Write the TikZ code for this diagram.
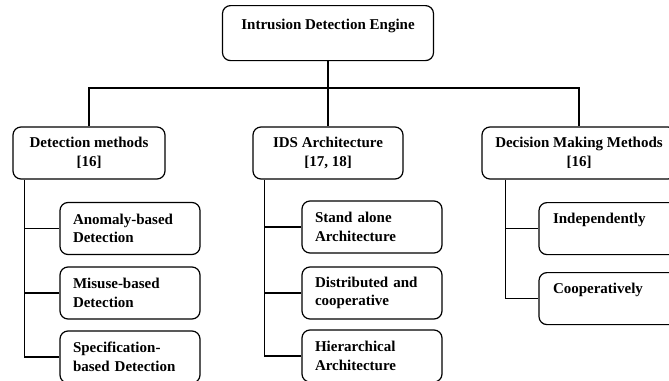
\documentclass[tikz,border=0pt]{standalone}
\usepackage{fontspec}
\setmainfont{Liberation Serif}
\usetikzlibrary{positioning}
\tikzstyle{line} = [draw, line width=1.2pt]

\begin{document}
\begin{tikzpicture}[x=1pt, y=-1pt, line width=1.2pt,
	box/.style={draw, rounded corners=8pt, inner sep=0pt, font=\fontsize{15}{18.6}\selectfont\bfseries},
	head/.style={box, align=center, minimum height=52pt},
	leaf/.style={box, align=left, text width=114pt, minimum width=140pt, minimum height=52pt, inner xsep=13pt},
	topleaf/.style={box, align=left, text width=114pt, inner xsep=14pt, text height=21pt, text depth=31pt, anchor=north}]
	\clip (0,0) rectangle (669,380);
	\useasboundingbox (0,0) rectangle (669,380);
	% top
	\node[box, minimum width=211pt, text height=24pt, text depth=31pt, anchor=north] (ide) at (328,5) {Intrusion Detection Engine};
	% second level
	\node[head, minimum width=152pt] (det) at (89,153) {Detection methods\\{[16]}};
	\node[head, minimum width=150pt] (arch) at (328,153) {IDS Architecture\\{[17, 18]}};
	\node[head, minimum width=194pt] (dec) at (579,153) {Decision Making Methods\\{[16]}};
	% leaves
	\node[leaf] (anom) at (130,228.5) {Anomaly-based\\Detection};
	\node[leaf] (mis) at (130,293) {Misuse-based\\Detection};
	\node[leaf] (spec) at (130,357) {Specification-\\based Detection};
	\node[leaf] (alone) at (372,227) {Stand alone\\Architecture};
	\node[leaf] (dist) at (372,293) {Distributed and\\cooperative};
	\node[leaf] (hier) at (372,356) {Hierarchical\\Architecture};
	\node[topleaf] (indep) at (610,202) {Independently};
	\node[topleaf] (coop) at (610,272) {Cooperatively};
	% bus
	\coordinate (bus) at (0,88);
	\draw (ide.south) -- (ide.south |- bus);
	\draw (det.north) |- (dec.north |- bus) -- (dec.north);
	\draw (arch.north |- bus) -- (arch.north);
	% spines
	\coordinate (detspine) at ([xshift=12pt]det.south west);
	\draw (detspine) |- (spec.west);
	\draw (detspine |- anom.west) -- (anom.west);
	\draw (detspine |- mis.west) -- (mis.west);
	\coordinate (archspine) at ([xshift=12pt]arch.south west);
	\draw (archspine) |- (hier.west);
	\draw (archspine |- alone.west) -- (alone.west);
	\draw (archspine |- dist.west) -- (dist.west);
	\coordinate (decspine) at ([xshift=24pt]dec.south west);
	\draw (decspine) |- (coop.west);
	\draw (decspine |- indep.west) -- (indep.west);
\end{tikzpicture}
\end{document}
